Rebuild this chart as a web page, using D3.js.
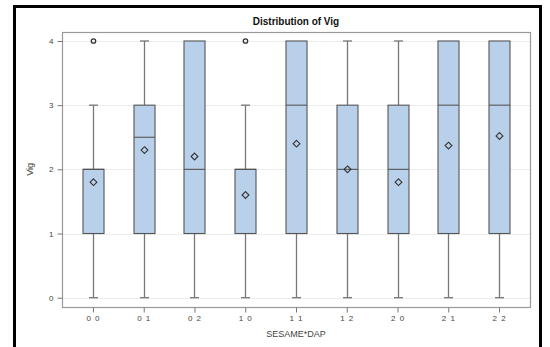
<!DOCTYPE html>
<html>
<head>
  <meta charset="utf-8">
  <script src="https://d3js.org/d3.v7.min.js"></script>
  <style>
    body { margin: 0; background: #fff; }
    text { font-family: "Liberation Sans", Arial, sans-serif; }
  </style>
</head>
<body>
<div id="chart"></div>
<script>
// categories (SESAME*DAP)
var groups = ["0 0", "0 1", "0 2", "1 0", "1 1", "1 2", "2 0", "2 1", "2 2"];
// five-number summaries
var whiskerLow = [0, 0, 0, 0, 0, 0, 0, 0, 0];
var q1        = [1, 1, 1, 1, 1, 1, 1, 1, 1];
var median    = [2, 2.5, 2, 2, 3, 2, 2, 3, 3];
var q3        = [2, 3, 4, 2, 4, 3, 3, 4, 4];
var whiskerHigh = [3, 4, 4, 3, 4, 4, 4, 4, 4];
var means     = [1.8, 2.3, 2.2, 1.6, 2.4, 2.0, 1.8, 2.37, 2.52];
var outliers  = [[4], [], [], [4], [], [], [], [], []];
var yTicks = [0, 1, 2, 3, 4];

var W = 550, H = 347;
var frame = {left: 62, right: 530, top: 32, bottom: 307};

var svg = d3.select("#chart").append("svg")
  .attr("width", W).attr("height", H);

svg.append("rect").attr("width", W).attr("height", H).attr("fill", "#fff");

// outer black border (left, top, right)
svg.append("path")
  .attr("d", "M14.5," + H + "V6.5H540.5V" + H)
  .attr("fill", "none").attr("stroke", "#000").attr("stroke-width", 3);

var x = d3.scalePoint()
  .domain(groups)
  .range([frame.left, frame.right])
  .padding(0.61);

var y = d3.scaleLinear()
  .domain([-0.145, 4.14])
  .range([frame.bottom, frame.top]);

// grid lines
svg.append("g").selectAll("line")
  .data(yTicks).enter().append("line")
  .attr("x1", frame.left).attr("x2", frame.right)
  .attr("y1", function(d) { return Math.round(y(d)) + 0.5; })
  .attr("y2", function(d) { return Math.round(y(d)) + 0.5; })
  .attr("stroke", "#ececec");

// frame
svg.append("rect")
  .attr("x", frame.left + 0.5).attr("y", frame.top + 0.5)
  .attr("width", frame.right - frame.left).attr("height", frame.bottom - frame.top)
  .attr("fill", "none").attr("stroke", "#999").attr("stroke-width", 1.2);

// axes
var yAxis = svg.append("g")
  .attr("transform", "translate(" + (frame.left + 0.5) + ",0)")
  .call(d3.axisLeft(y).tickValues(yTicks).tickSize(5).tickPadding(4).tickFormat(d3.format("d")));
var xAxis = svg.append("g")
  .attr("transform", "translate(0," + (frame.bottom + 0.5) + ")")
  .call(d3.axisBottom(x).tickSize(5).tickPadding(3));
[yAxis, xAxis].forEach(function(a) {
  a.select(".domain").remove();
  a.selectAll(".tick line").attr("stroke", "#777");
  a.selectAll("text").attr("fill", "#444").style("font-size", "8px");
});
xAxis.selectAll("text").style("letter-spacing", "1px");

var bw = 21;
var data = groups.map(function(g, i) {
  return {g: g, lo: whiskerLow[i], q1: q1[i], med: median[i], q3: q3[i],
          hi: whiskerHigh[i], mean: means[i], out: outliers[i]};
});

var boxes = svg.append("g").selectAll("g")
  .data(data).enter().append("g")
  .attr("transform", function(d) { return "translate(" + Math.round(x(d.g)) + ",0)"; });

// whiskers
boxes.append("line")
  .attr("x1", 0.5).attr("x2", 0.5)
  .attr("y1", function(d) { return y(d.lo); })
  .attr("y2", function(d) { return y(d.q1); })
  .attr("stroke", "#777").attr("stroke-width", 1.3);
boxes.append("line")
  .attr("x1", 0.5).attr("x2", 0.5)
  .attr("y1", function(d) { return y(d.q3); })
  .attr("y2", function(d) { return y(d.hi); })
  .attr("stroke", "#777").attr("stroke-width", 1.3);
boxes.append("line")
  .attr("x1", -4).attr("x2", 5)
  .attr("y1", function(d) { return y(d.lo); })
  .attr("y2", function(d) { return y(d.lo); })
  .attr("stroke", "#777").attr("stroke-width", 1.3);
boxes.filter(function(d) { return d.hi > d.q3; }).append("line")
  .attr("x1", -4).attr("x2", 5)
  .attr("y1", function(d) { return y(d.hi); })
  .attr("y2", function(d) { return y(d.hi); })
  .attr("stroke", "#777").attr("stroke-width", 1.3);

// box
boxes.append("rect")
  .attr("x", -bw / 2 + 0.5)
  .attr("y", function(d) { return y(d.q3); })
  .attr("width", bw)
  .attr("height", function(d) { return y(d.q1) - y(d.q3); })
  .attr("fill", "#b9d0ea").attr("stroke", "#555").attr("stroke-width", 1.1);

// median
boxes.append("line")
  .attr("x1", -bw / 2 + 0.5).attr("x2", bw / 2 + 0.5)
  .attr("y1", function(d) { return y(d.med); })
  .attr("y2", function(d) { return y(d.med); })
  .attr("stroke", "#555").attr("stroke-width", 1.1);

// mean diamond
boxes.append("path")
  .attr("d", function(d) {
    var cy = y(d.mean), r = 3.4;
    return "M0.5," + (cy - r) + "L" + (0.5 + r) + "," + cy + "L0.5," + (cy + r) + "L" + (0.5 - r) + "," + cy + "Z";
  })
  .attr("fill", "none").attr("stroke", "#333").attr("stroke-width", 1.1);

// outliers
boxes.selectAll("circle")
  .data(function(d) { return d.out; }).enter().append("circle")
  .attr("cx", 0.5).attr("cy", function(v) { return y(v); })
  .attr("r", 2.2)
  .attr("fill", "none").attr("stroke", "#333").attr("stroke-width", 1.3);

// title and axis labels
svg.append("text")
  .attr("x", 296).attr("y", 25).attr("text-anchor", "middle")
  .style("font-size", "10px").style("font-weight", "bold").attr("fill", "#111")
  .text("Distribution of Vig");
svg.append("text")
  .attr("x", 296).attr("y", 337).attr("text-anchor", "middle")
  .style("font-size", "9px").attr("fill", "#444")
  .text("SESAME*DAP");
svg.append("text")
  .attr("transform", "translate(33," + y(2) + ") rotate(-90)")
  .attr("text-anchor", "middle")
  .style("font-size", "9px").attr("fill", "#444")
  .text("Vig");
</script>
</body>
</html>
